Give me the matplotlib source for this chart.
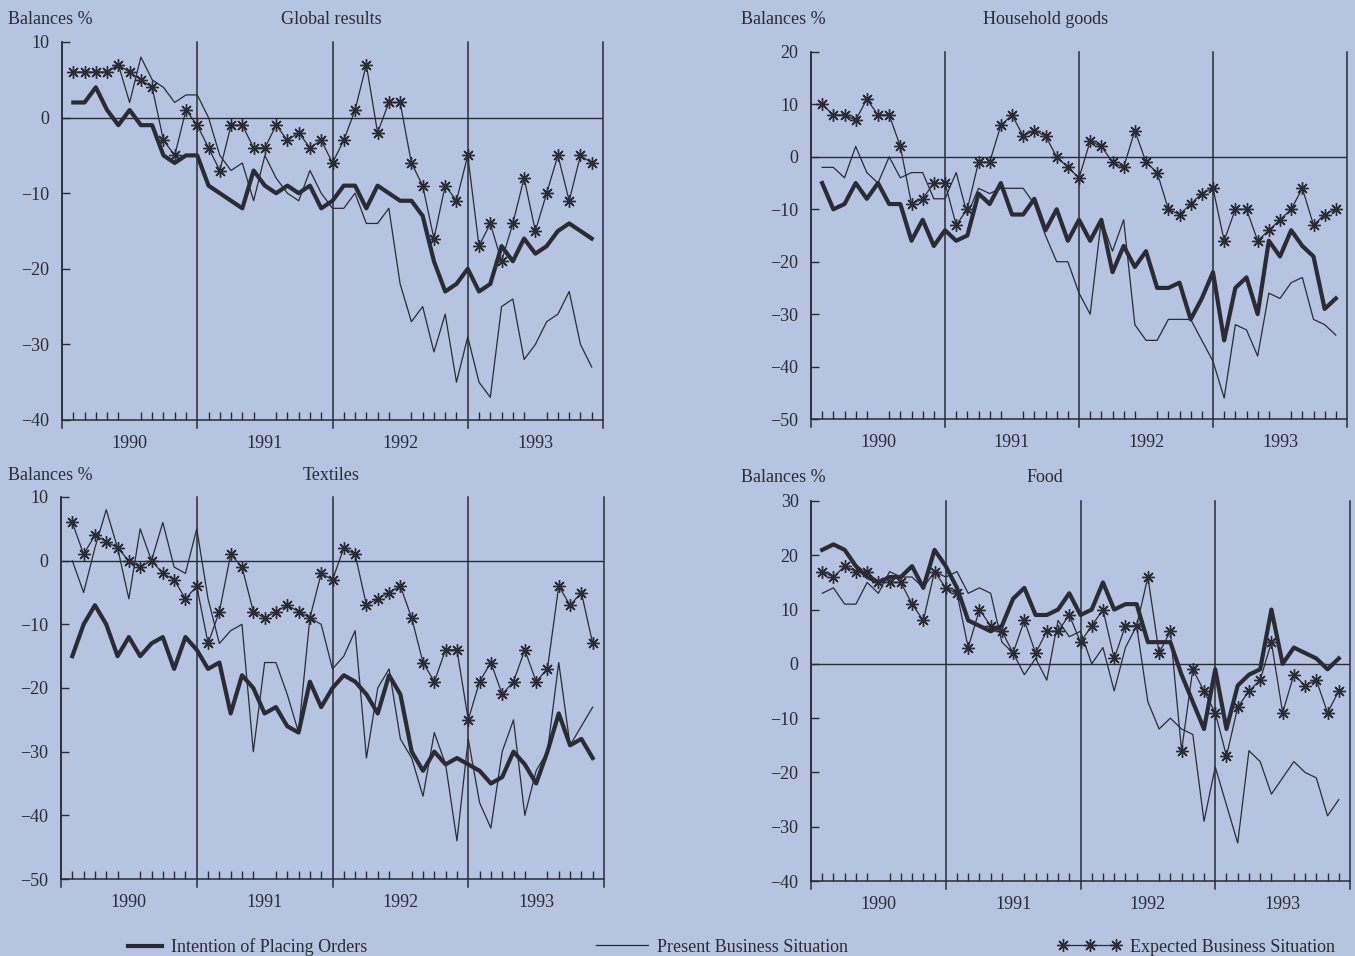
import matplotlib
matplotlib.use("Agg")
import matplotlib.pyplot as plt
from matplotlib.lines import Line2D

plt.rcParams['font.family'] = ['Liberation Serif', 'DejaVu Serif']

BG = '#b6c3e1'
INK = '#2b2b35'
FS = 13

# monthly survey balances, Feb 1990 .. Dec 1993
months = list(range(1, 48))
years = ['1990', '1991', '1992', '1993']

# Global results
int_g = [2, 2, 4, 1, -1, 1, -1, -1, -5, -6,
         -5, -5, -9, -10, -11, -12, -7, -9, -10, -9,
         -10, -9, -12, -11, -9, -9, -12, -9, -10, -11,
         -11, -13, -19, -23, -22, -20, -23, -22, -17, -19,
         -16, -18, -17, -15, -14, -15, -16]
pres_g = [6, 6, 6, 6, 7, 2, 8, 5, 4, 2,
          3, 3, 0, -5, -7, -6, -11, -5, -8, -10,
          -11, -7, -10, -12, -12, -10, -14, -14, -12, -22,
          -27, -25, -31, -26, -35, -29, -35, -37, -25, -24,
          -32, -30, -27, -26, -23, -30, -33]
exp_g = [6, 6, 6, 6, 7, 6, 5, 4, -3, -5,
         1, -1, -4, -7, -1, -1, -4, -4, -1, -3,
         -2, -4, -3, -6, -3, 1, 7, -2, 2, 2,
         -6, -9, -16, -9, -11, -5, -17, -14, -19, -14,
         -8, -15, -10, -5, -11, -5, -6]

# Household goods
int_h = [-5, -10, -9, -5, -8, -5, -9, -9, -16, -12,
         -17, -14, -16, -15, -7, -9, -5, -11, -11, -8,
         -14, -10, -16, -12, -16, -12, -22, -17, -21, -18,
         -25, -25, -24, -31, -27, -22, -35, -25, -23, -30,
         -16, -19, -14, -17, -19, -29, -27]
pres_h = [-2, -2, -4, 2, -3, -5, 0, -4, -3, -3,
          -8, -8, -3, -11, -6, -7, -6, -6, -6, -9,
          -15, -20, -20, -26, -30, -12, -18, -12, -32, -35,
          -35, -31, -31, -31, -35, -39, -46, -32, -33, -38,
          -26, -27, -24, -23, -31, -32, -34]
exp_h = [10, 8, 8, 7, 11, 8, 8, 2, -9, -8,
         -5, -5, -13, -10, -1, -1, 6, 8, 4, 5,
         4, 0, -2, -4, 3, 2, -1, -2, 5, -1,
         -3, -10, -11, -9, -7, -6, -16, -10, -10, -16,
         -14, -12, -10, -6, -13, -11, -10]

# Textiles
int_t = [-15, -10, -7, -10, -15, -12, -15, -13, -12, -17,
         -12, -14, -17, -16, -24, -18, -20, -24, -23, -26,
         -27, -19, -23, -20, -18, -19, -21, -24, -18, -21,
         -30, -33, -30, -32, -31, -32, -33, -35, -34, -30,
         -32, -35, -30, -24, -29, -28, -31]
pres_t = [0, -5, 2, 8, 2, -6, 5, 0, 6, -1,
          -2, 5, -6, -13, -11, -10, -30, -16, -16, -21,
          -27, -9, -10, -17, -15, -11, -31, -20, -17, -28,
          -31, -37, -27, -32, -44, -28, -38, -42, -30, -25,
          -40, -33, -30, -16, -29, -26, -23]
exp_t = [6, 1, 4, 3, 2, 0, -1, 0, -2, -3,
         -6, -4, -13, -8, 1, -1, -8, -9, -8, -7,
         -8, -9, -2, -3, 2, 1, -7, -6, -5, -4,
         -9, -16, -19, -14, -14, -25, -19, -16, -21, -19,
         -14, -19, -17, -4, -7, -5, -13]

# Food
int_f = [21, 22, 21, 18, 16, 15, 16, 16, 18, 14,
         21, 18, 14, 8, 7, 6, 7, 12, 14, 9,
         9, 10, 13, 9, 10, 15, 10, 11, 11, 4,
         4, 4, -2, -7, -12, -1, -12, -4, -2, -1,
         10, 0, 3, 2, 1, -1, 1]
pres_f = [13, 14, 11, 11, 15, 13, 17, 16, 16, 14,
          17, 16, 17, 13, 14, 13, 4, 2, -2, 1,
          -3, 8, 5, 6, 0, 3, -5, 3, 7, -7,
          -12, -10, -12, -13, -29, -19, -26, -33, -16, -18,
          -24, -21, -18, -20, -21, -28, -25]
exp_f = [17, 16, 18, 17, 17, 15, 15, 15, 11, 8,
         17, 14, 13, 3, 10, 7, 6, 2, 8, 2,
         6, 6, 9, 4, 7, 10, 1, 7, 7, 16,
         2, 6, -16, -1, -5, -9, -17, -8, -5, -3,
         4, -9, -2, -4, -3, -9, -5]

W, H = 1355, 956
fig = plt.figure(figsize=(W / 100, H / 100), dpi=100)
fig.patch.set_facecolor(BG)

STAR = (8, 2, 0)


def fmt(v):
    return str(v) if v >= 0 else '\u2212' + str(-v)


def draw_panel(rect, title, intention, present, expected, yticks,
               head_x, head_y, title_x):
    ax = fig.add_axes(rect)
    ax.set_facecolor('none')
    ax.plot(months, present, color=INK, lw=0.9)
    ax.plot(months, intention, color=INK, lw=3.0)
    ax.plot(months, expected, color=INK, lw=0.9, marker=STAR, ms=9, mew=1.0)
    ax.axhline(0, color=INK, lw=1.0)
    for b in (0, 12, 24, 36, 48):
        ax.axvline(b, ymin=-0.022, ymax=1, color=INK, lw=1.1, clip_on=False)
    ax.set_xlim(0, 48)
    ax.set_ylim(min(yticks), max(yticks))
    for s in ('top', 'right'):
        ax.spines[s].set_visible(False)
    for s in ('left', 'bottom'):
        ax.spines[s].set_color(INK)
        ax.spines[s].set_linewidth(1.1)
    ax.set_yticks(yticks)
    ax.set_yticklabels([fmt(v) for v in yticks])
    ax.tick_params(axis='y', direction='in', length=6, width=1.0, color=INK,
                   pad=9, labelsize=FS, labelcolor=INK)
    ax.set_xticks([6, 18, 30, 42])
    ax.set_xticklabels(years)
    ax.set_xticks([m for m in months if m % 12], minor=True)
    ax.tick_params(axis='x', which='major', length=0, pad=11, labelsize=FS,
                   labelcolor=INK)
    ax.tick_params(axis='x', which='minor', direction='in', length=6, width=1.0,
                   color=INK)
    fig.text(head_x / W, 1 - head_y / H, 'Balances %', fontsize=FS, color=INK,
             ha='left', va='center')
    fig.text(title_x / W, 1 - head_y / H, title, fontsize=FS,
             color=INK, ha='center', va='center')
    return ax


def box(x0, x1, ytop, ybot):
    return [x0 / W, 1 - ybot / H, (x1 - x0) / W, (ybot - ytop) / H]


draw_panel(box(62, 603, 42, 420), 'Global results', int_g, pres_g, exp_g,
           [10, 0, -10, -20, -30, -40], 8, 20, 331)
draw_panel(box(811, 1347, 52, 419), 'Household goods', int_h, pres_h, exp_h,
           [20, 10, 0, -10, -20, -30, -40, -50], 741, 20, 1046)
draw_panel(box(61, 604, 497, 879), 'Textiles', int_t, pres_t, exp_t,
           [10, 0, -10, -20, -30, -40, -50], 8, 476, 331)
draw_panel(box(811, 1350, 501, 881), 'Food', int_f, pres_f, exp_f,
           [30, 20, 10, 0, -10, -20, -30, -40], 741, 477, 1045)

# legend row along the bottom
legend_items = [
    (Line2D([], [], color=INK, lw=3.0), 'Intention of Placing Orders', 128, 1.9, 1),
    (Line2D([], [], color=INK, lw=0.9), 'Present Business Situation', 596, 2.9, 1),
    (Line2D([], [], color=INK, lw=0.9, marker=STAR, ms=9, mew=1.0),
     'Expected Business Situation', 1058, 3.5, 3),
]
for handle, text, x, hl, npts in legend_items:
    fig.legend([handle], [text], loc='center left',
               bbox_to_anchor=(x / W, 1 - 947 / H), frameon=False,
               fontsize=FS, handlelength=hl, handletextpad=0.5,
               borderpad=0, borderaxespad=0, numpoints=npts,
               labelcolor=INK)

fig.savefig('out.png', dpi=100, facecolor=BG)
